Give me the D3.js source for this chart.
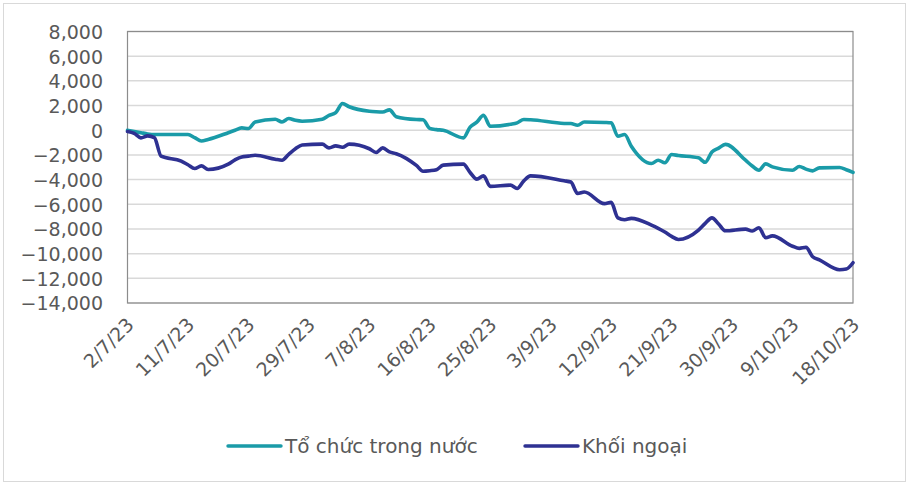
<!DOCTYPE html>
<html>
<head>
<meta charset="utf-8">
<script src="https://cdn.jsdelivr.net/npm/d3@7"></script>
<style>
  html, body { margin: 0; padding: 0; background: #fff; }
  svg { display: block; }
  text { font-family: "DejaVu Sans", Verdana, sans-serif; fill: #595959; }
</style>
</head>
<body>
<svg id="chart" width="912" height="485"></svg>
<script>
// ---- Data ----
const seriesNames = ["Tổ chức trong nước", "Khối ngoại"];
const tickLabels = ["2/7/23","11/7/23","20/7/23","29/7/23","7/8/23","16/8/23","25/8/23","3/9/23","12/9/23","21/9/23","30/9/23","9/10/23","18/10/23"];
const yTicks = [8000,6000,4000,2000,0,-2000,-4000,-6000,-8000,-10000,-12000,-14000];
const dates = [
  "2023-07-02","2023-07-03","2023-07-04","2023-07-05","2023-07-06","2023-07-07",
  "2023-07-10","2023-07-11","2023-07-12","2023-07-13","2023-07-14",
  "2023-07-17","2023-07-18","2023-07-19","2023-07-20","2023-07-21",
  "2023-07-24","2023-07-25","2023-07-26","2023-07-27","2023-07-28",
  "2023-07-31","2023-08-01","2023-08-02","2023-08-03","2023-08-04",
  "2023-08-07","2023-08-08","2023-08-09","2023-08-10","2023-08-11",
  "2023-08-14","2023-08-15","2023-08-16","2023-08-17","2023-08-18",
  "2023-08-21","2023-08-22","2023-08-23","2023-08-24","2023-08-25",
  "2023-08-28","2023-08-29","2023-08-30","2023-08-31",
  "2023-09-05","2023-09-06","2023-09-07","2023-09-08",
  "2023-09-11","2023-09-12","2023-09-13","2023-09-14","2023-09-15",
  "2023-09-18","2023-09-19","2023-09-20","2023-09-21","2023-09-22",
  "2023-09-25","2023-09-26","2023-09-27","2023-09-28","2023-09-29",
  "2023-10-02","2023-10-03","2023-10-04","2023-10-05","2023-10-06",
  "2023-10-09","2023-10-10","2023-10-11","2023-10-12","2023-10-13",
  "2023-10-16","2023-10-17","2023-10-18"
];
const toChucTrongNuoc = [
  0,-100,-200,-300,-350,-350,
  -350,-350,-600,-870,-750,
  -200,0,190,140,670,
  890,670,950,800,730,
  890,1200,1430,2160,1900,
  1540,1500,1480,1650,1100,
  870,850,150,50,0,
  -620,250,650,1210,320,
  480,600,870,850,
  550,540,400,670,
  630,600,-490,-350,-1300,
  -2700,-2430,-2640,-1970,-2050,
  -2240,-2600,-1760,-1450,-1150,
  -2430,-2900,-3240,-2730,-2970,
  -3240,-2940,-3150,-3290,-3050,
  -3020,-3200,-3420
];
const khoiNgoai = [
  -100,-250,-620,-460,-600,-2100,
  -2500,-2800,-3100,-2890,-3180,
  -2750,-2400,-2160,-2100,-2030,
  -2350,-2430,-1950,-1500,-1200,
  -1130,-1430,-1270,-1380,-1130,
  -1500,-1800,-1430,-1760,-1900,
  -2850,-3320,-3280,-3200,-2830,
  -2750,-3420,-3960,-3700,-4550,
  -4450,-4720,-4100,-3700,
  -4100,-4200,-5120,-5000,
  -5950,-5850,-7100,-7250,-7140,
  -7690,-7950,-8250,-8600,-8850,
  -8090,-7550,-7100,-7600,-8150,
  -8010,-8170,-7900,-8710,-8560,
  -9400,-9570,-9490,-10250,-10500,
  -11300,-11250,-10740
];
const colors = ["#1A9BA8", "#2E3192"];

// ---- Chart ----
const svg = d3.select("#chart");
const plot = { left: 127.5, right: 853, top: 31.5, bottom: 303 };
const parse = d3.utcParse("%Y-%m-%d");
const parseTick = d3.utcParse("%d/%m/%y");

const x = d3.scaleUtc()
  .domain([parse(dates[0]), parse(dates[dates.length - 1])])
  .range([plot.left, plot.right]);
const y = d3.scaleLinear()
  .domain([-14000, 8000])
  .range([plot.bottom, plot.top]);

// outer chart frame
svg.append("rect")
  .attr("x", 3.5).attr("y", 3.5).attr("width", 902).attr("height", 478)
  .attr("fill", "none").attr("stroke", "#d9d9d9").attr("stroke-width", 1);

// gridlines
svg.append("g").selectAll("line").data(yTicks).join("line")
  .attr("x1", plot.left).attr("x2", plot.right)
  .attr("y1", d => y(d)).attr("y2", d => y(d))
  .attr("stroke", "#d9d9d9").attr("stroke-width", 1.5);

// y axis labels
const fmt = d3.format(",");
const yAxis = d3.axisLeft(y).tickValues(yTicks).tickSize(0).tickPadding(0)
  .tickFormat(d => fmt(d));
const gy = svg.append("g").attr("transform", `translate(103,0)`).call(yAxis);
gy.select(".domain").remove();
gy.selectAll("text")
  .style("font-family", '"DejaVu Sans", Verdana, sans-serif')
  .style("font-size", "19px").attr("fill", "#595959").attr("dy", "0.36em");

// x axis labels
const xAxis = d3.axisBottom(x).tickValues(tickLabels.map(t => parseTick(t)))
  .tickSize(0).tickFormat((d, i) => tickLabels[i]);
const gx = svg.append("g").attr("transform", `translate(0,${plot.bottom})`).call(xAxis);
gx.select(".domain").remove();
gx.selectAll("text")
  .style("font-family", '"DejaVu Sans", Verdana, sans-serif')
  .style("font-size", "19px").attr("fill", "#595959")
  .attr("text-anchor", "end")
  .attr("dy", null).attr("y", 0)
  .attr("transform", "translate(7,23) rotate(-45)");

// plot border
svg.append("rect")
  .attr("x", plot.left).attr("y", plot.top)
  .attr("width", plot.right - plot.left).attr("height", plot.bottom - plot.top)
  .attr("fill", "none").attr("stroke", "#8c8c8c").attr("stroke-width", 1.2);

// lines
const allSeries = [toChucTrongNuoc, khoiNgoai];
const line = d3.line()
  .x((d, i) => x(parse(dates[i])))
  .y(d => y(d))
  .curve(d3.curveMonotoneX);
svg.append("g").selectAll("path").data(allSeries).join("path")
  .attr("d", d => line(d))
  .attr("fill", "none")
  .attr("stroke", (d, i) => colors[i])
  .attr("stroke-width", 3.6)
  .attr("stroke-linejoin", "round")
  .attr("stroke-linecap", "round");

// legend
const legendItems = [
  { x1: 228, x2: 281, tx: 285 },
  { x1: 525, x2: 578, tx: 582 }
];
const lg = svg.append("g");
legendItems.forEach((it, i) => {
  lg.append("line").attr("x1", it.x1).attr("x2", it.x2).attr("y1", 446).attr("y2", 446)
    .attr("stroke", colors[i]).attr("stroke-width", 3.4).attr("stroke-linecap", "round");
  lg.append("text").attr("x", it.tx).attr("y", 453)
    .style("font-size", "20px").text(seriesNames[i]);
});
</script>
</body>
</html>
